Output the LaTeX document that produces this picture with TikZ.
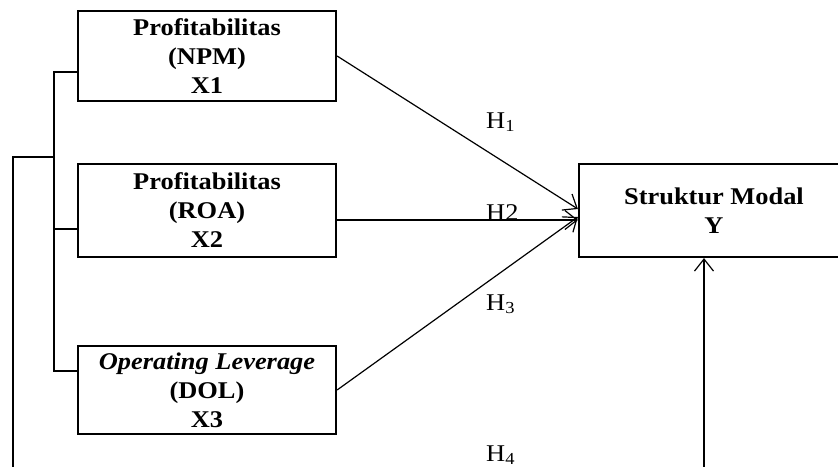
\documentclass[tikz,border=0pt]{standalone}
\usepackage{fontspec}
\setmainfont{Liberation Serif}
\newfontfamily\wideserif[FakeStretch=1.1]{Liberation Serif}
\usetikzlibrary{arrows.meta}

\tikzset{
  varbox/.style={draw, line width=2.2pt, minimum width=258pt, minimum height=90pt,
    inner sep=0pt, text depth=0pt, align=center, font={\wideserif\bfseries\fontsize{24}{29}\selectfont}},
  hlabel/.style={anchor=base west, inner sep=0pt, font={\wideserif\fontsize{24}{24}\selectfont}},
  link/.style={line width=1.2pt, -{Straight Barb[length=12pt, width=19pt, line width=1.2pt]}},
  bracket/.style={line width=1.8pt},
}

\begin{document}
\begin{tikzpicture}[x=1pt, y=-1pt]
  \useasboundingbox (0,0) rectangle (838,466);
  \clip (0,0) rectangle (838,466);

  % variabel independen
  \node[varbox] (x1) at (207,56) {Profitabilitas\\(NPM)\\X1};
  \node[varbox, minimum height=93pt] (x2) at (207,210.5) {Profitabilitas\\(ROA)\\X2};
  \node[varbox, minimum height=88pt] (x3) at (207,390) {\itshape Operating Leverage\\(DOL)\\X3};

  % variabel dependen
  \node[varbox, minimum width=270pt, minimum height=93pt] (y) at (714,210.5) {Struktur Modal\\Y};

  % hipotesis
  \draw[link] (x1.east) -- ([yshift=1.5pt]y.west);
  \draw[link] ([yshift=-9.5pt]x2.east) -- ([yshift=-9.5pt]y.west);
  \draw[link] (x3.east) -- ([yshift=-6.5pt]y.west);
  \node[hlabel] (h1) at (486,128) {H\textsubscript{1}};
  \node[hlabel] (h2) at (486,220) {H2};
  \node[hlabel] (h3) at (486,310) {H\textsubscript{3}};
  \node[hlabel] (h4) at (486,461) {H\textsubscript{4}};

  % simultan
  \draw[bracket] ([yshift=-16pt]x1.west) -- ++(-23,0) |- ([yshift=19pt]x3.west);
  \draw[bracket] ([yshift=-18.5pt]x2.west) -- ++(-23,0);
  \coordinate (trunk) at (55,157);
  \coordinate (bottom) at (13,470);
  \draw[bracket] (trunk) -| (bottom);
  \coordinate (ybottom) at (704,470);
  \draw[link] (ybottom) -- (y.south -| ybottom);
\end{tikzpicture}
\end{document}
